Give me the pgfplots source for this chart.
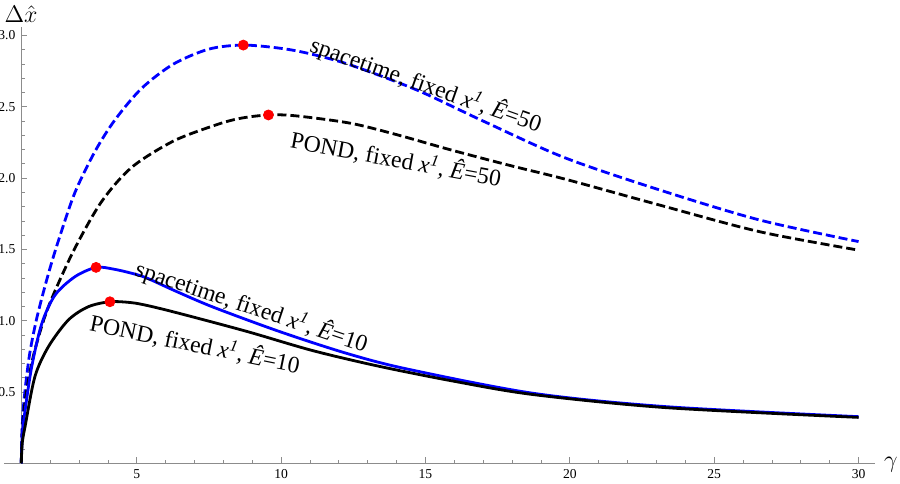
\documentclass[border=0pt]{standalone}
\usepackage{fontspec}
\setmainfont{Liberation Serif}
\usepackage{pgfplots}
\usepackage{pgfplotstable}
\pgfplotsset{compat=1.18}

\pgfplotstableread{
g v
1.00 0
1.02 0.20
1.06 0.36
1.15 0.55
1.30 0.78
1.55 1.03
1.94 1.33
2.3 1.57
2.86 1.90
3.56 2.19
4.25 2.41
5.17 2.63
6.27 2.80
7.5 2.905
8.69 2.933
10.0 2.91
11.0 2.872
12.38 2.795
14.7 2.618
17.0 2.40
19.8 2.145
23.11 1.917
26.58 1.706
30 1.555
}\sdfifty

\pgfplotstableread{
g v
1.00 0
1.02 0.17
1.06 0.30
1.15 0.46
1.30 0.64
1.47 0.795
1.80 1.02
2.17 1.21
2.86 1.51
3.78 1.835
4.82 2.075
6.27 2.26
7.77 2.375
8.6 2.42
9.56 2.443
10.5 2.437
12.4 2.385
14.0 2.305
15.84 2.20
17.9 2.09
19.89 1.99
23.11 1.811
26.58 1.624
30 1.495
}\pdfifty

\pgfplotstableread{
g v
1.00 0
1.02 0.15
1.05 0.24
1.13 0.37
1.36 0.677
1.71 0.98
2.17 1.18
2.86 1.309
3.59 1.374
4.19 1.362
4.82 1.333
5.34 1.30
6.32 1.21
7.65 1.095
9.96 0.923
12.27 0.771
14.35 0.662
18.73 0.491
23.35 0.397
30 0.327
}\sten

\pgfplotstableread{
g v
1.00 0
1.02 0.11
1.05 0.17
1.13 0.257
1.47 0.607
1.94 0.818
2.63 1.005
3.32 1.098
4.07 1.133
4.8 1.127
5.4 1.105
6.5 1.05
8.81 0.925
11.1 0.79
13.4 0.68
16.0 0.575
18.73 0.482
23.35 0.39
30 0.322
}\pten

\begin{document}
\begin{tikzpicture}
\begin{axis}[
  at={(8.65pt,0pt)}, anchor=south west,
  scale only axis, width=426.85pt, height=218.3pt,
  xmin=1, xmax=30.57, ymin=0, ymax=3.062,
  axis x line=bottom, axis y line=left,
  axis line style={-, draw=black!45, line width=0.5pt},
  clip=false,
  xtick={5,10,...,30}, minor xtick={2,...,30},
  ytick={0.5,1.0,1.5,2.0,2.5,3.0},
  minor ytick={0.1,0.2,0.3,0.4,0.6,0.7,0.8,0.9,1.1,1.2,1.3,1.4,1.6,1.7,1.8,1.9,2.1,2.2,2.3,2.4,2.6,2.7,2.8,2.9,3.0},
  tick align=inside,
  major tick length=3pt, minor tick length=1.7pt,
  tick style={draw=black!45, line width=0.4pt},
  /pgf/number format/assume math mode=true,
  tick label style={font=\fontsize{6.8}{8}\selectfont, text=black},
  yticklabel style={/pgf/number format/fixed, /pgf/number format/fixed zerofill, /pgf/number format/precision=1, xshift=0.6pt},
  xticklabel style={yshift=0.6pt},
]
\addplot[blue, line width=1.4pt, dash pattern=on 4.5pt off 2pt, smooth] table[x=g,y=v] {\sdfifty};
\addplot[black, line width=1.4pt, dash pattern=on 4.5pt off 2pt, smooth] table[x=g,y=v] {\pdfifty};
\addplot[blue, line width=1.4pt, smooth] table[x=g,y=v] {\sten};
\addplot[black, line width=1.4pt, smooth] table[x=g,y=v] {\pten};
\addplot[only marks, mark=*, mark size=2.5pt, mark options={draw=red, fill=red}] coordinates {(8.69,2.933) (9.56,2.443) (3.59,1.374) (4.07,1.133)};

\node[rotate=-19.5, font=\fontsize{11.8}{14}\selectfont] at (axis cs:15.02,2.653) {spacetime, fixed \textit{x}\textsuperscript{\textit{1}}, \textit{Ê}=50};
\node[rotate=-10.5, font=\fontsize{11.8}{14}\selectfont] at (axis cs:13.98,2.133) {POND, fixed \textit{x}\textsuperscript{\textit{1}}, \textit{Ê}=50};
\node[rotate=-18.5, font=\fontsize{11.8}{14}\selectfont] at (axis cs:8.98,1.098) {spacetime, fixed \textit{x}\textsuperscript{\textit{1}}, \textit{Ê}=10};
\node[rotate=-11.5, font=\fontsize{11.8}{14}\selectfont] at (axis cs:7.02,0.837) {POND, fixed \textit{x}\textsuperscript{\textit{1}}, \textit{Ê}=10};
\node[font=\fontsize{12}{14}\selectfont] at (axis cs:0.99,3.151) {$\Delta\hat{x}$};
\node[font=\fontsize{12}{14}\selectfont] at (axis cs:31.12,-0.011) {$\gamma$};
\end{axis}
\draw[draw=black!45, line width=0.5pt] (0pt,0pt) -- (8.65pt,0pt);
\pgfresetboundingbox
\path[use as bounding box] (-2pt,-9.85pt) rectangle (448pt,231.65pt);
\end{tikzpicture}
\end{document}
